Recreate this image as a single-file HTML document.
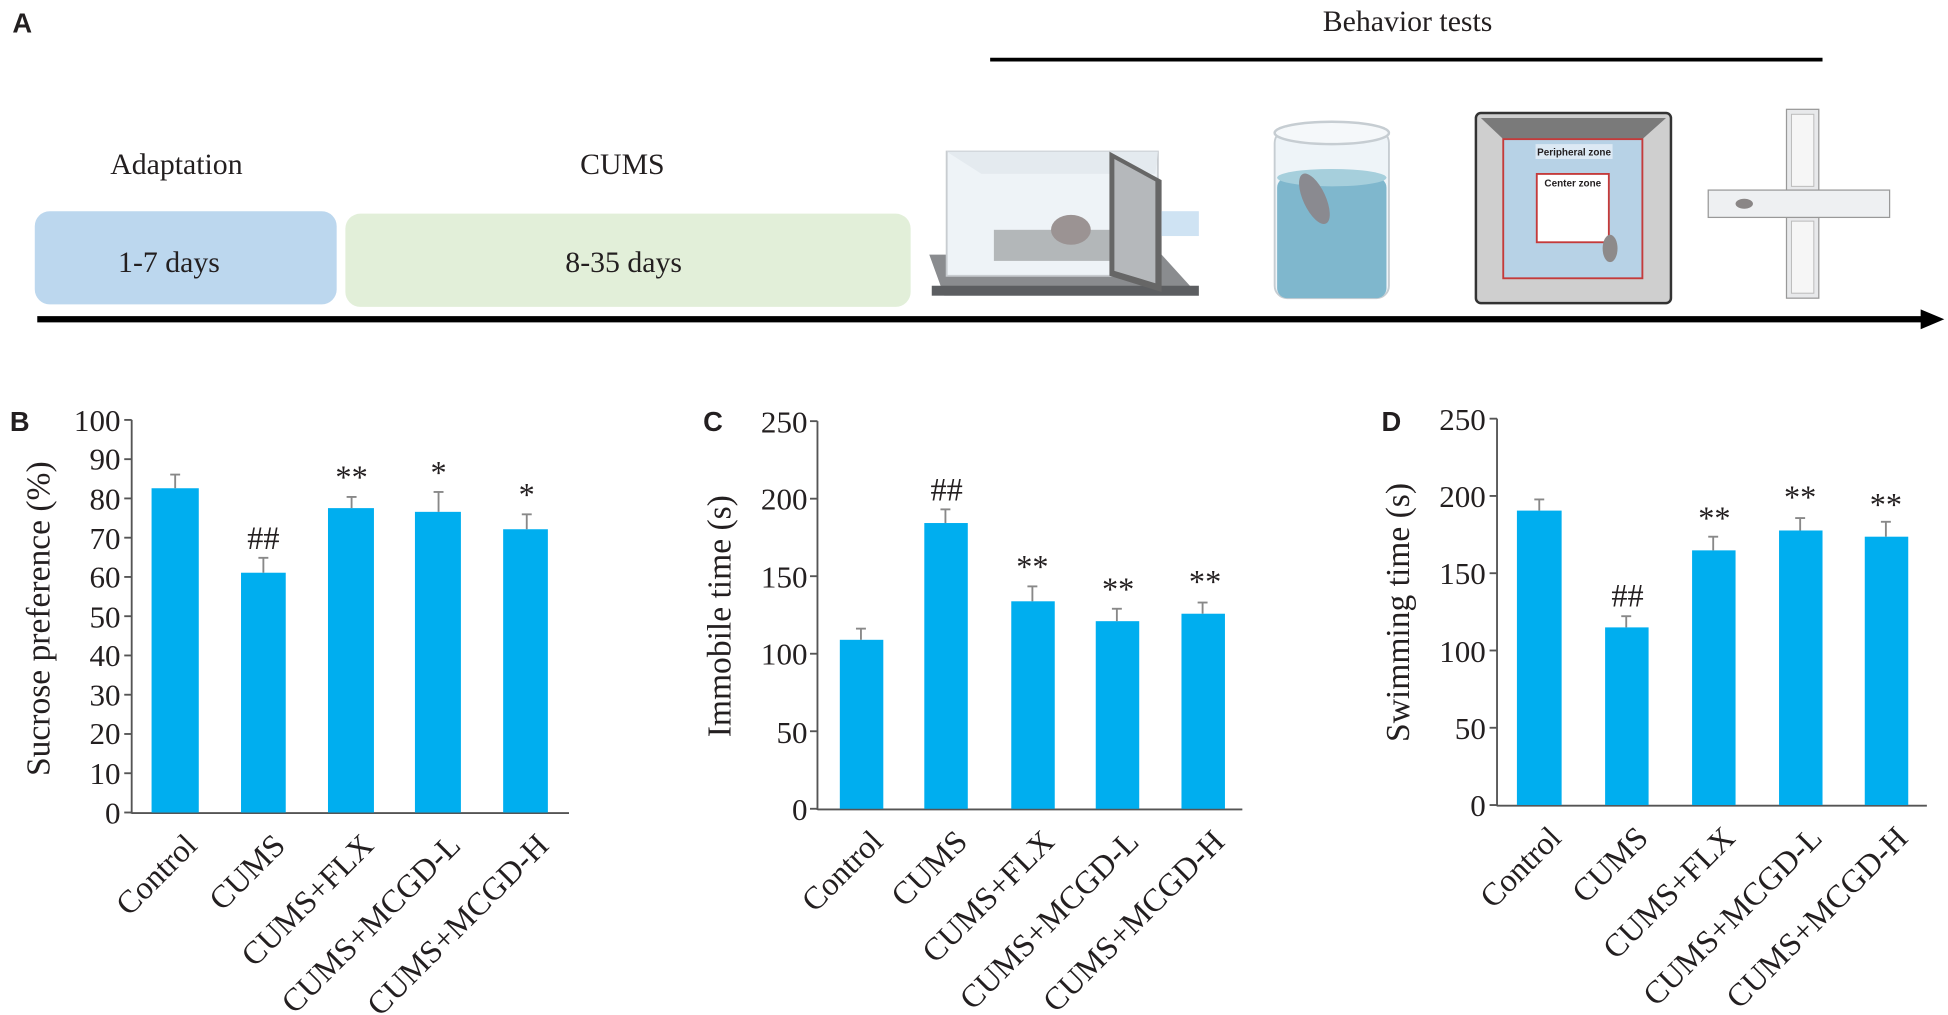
<!DOCTYPE html>
<html><head><meta charset="utf-8"><style>
html,body{margin:0;padding:0;background:#fff;}
svg{display:block;}
text{font-family:"Liberation Serif",serif;fill:#231f20;}
.t{font-size:25px;}
.x{font-size:26px;}
.s{font-family:"Liberation Sans",sans-serif;font-weight:bold;}
</style></head><body>
<svg width="1948" height="1015" viewBox="0 0 1568 817" preserveAspectRatio="none" xmlns="http://www.w3.org/2000/svg">
<rect width="1568" height="817" fill="#fff"/>
<!-- Panel A -->
<text x="10" y="26" class="s" style="font-size:22px">A</text>
<text x="1133" y="25" text-anchor="middle" style="font-size:24px">Behavior tests</text>
<line x1="797" y1="48" x2="1467" y2="48" stroke="#000" stroke-width="3"/>
<text x="142" y="140" text-anchor="middle" style="font-size:24px">Adaptation</text>
<text x="501" y="140" text-anchor="middle" style="font-size:24px">CUMS</text>
<rect x="28" y="170" width="243" height="75" rx="12" fill="#bcd7ee"/>
<rect x="278" y="172" width="455" height="75" rx="12" fill="#e2efd9"/>
<text x="136" y="219" text-anchor="middle" style="font-size:24px">1-7 days</text>
<text x="502" y="219" text-anchor="middle" style="font-size:24px">8-35 days</text>
<line x1="30" y1="257" x2="1550" y2="257" stroke="#000" stroke-width="5"/>
<polygon points="1546,249 1565,257 1546,265" fill="#000"/>
<!-- cage -->
<polygon points="748,205 935,205 965,238 760,238" fill="#8a8c8f"/>
<rect x="750" y="230" width="215" height="8" fill="#5c5e61"/>
<rect x="762" y="122" width="170" height="100" fill="#eef3f7" stroke="#c8ccd0" stroke-width="1.5"/>
<polygon points="762,122 790,140 930,140 932,122" fill="#e4eaef"/>
<rect x="800" y="185" width="120" height="25" fill="#9a9c9e" opacity="0.7"/>
<polygon points="893,122 935,145 935,235 893,222" fill="#666"/>
<polygon points="897,128 930,146 930,228 897,218" fill="#b5b8bb"/>
<ellipse cx="862" cy="185" rx="16" ry="12" fill="#9b9393"/>
<rect x="935" y="170" width="30" height="20" fill="#cfe3f3"/>
<!-- cylinder -->
<rect x="1026" y="105" width="92" height="135" rx="10" fill="#eef4f8" stroke="#c6cdd2" stroke-width="1.5"/>
<ellipse cx="1072" cy="107" rx="46" ry="9" fill="#f5f8fa" stroke="#c6cdd2" stroke-width="2"/>
<rect x="1028" y="143" width="88" height="97" rx="8" fill="#7fb7cd"/>
<ellipse cx="1072" cy="143" rx="44" ry="7" fill="#a6cfdc"/>
<ellipse cx="1058" cy="160" rx="9" ry="22" fill="#8a8a90" transform="rotate(-25 1058 160)"/>
<!-- open field -->
<rect x="1188" y="91" width="157" height="153" rx="4" fill="#cfcfcf" stroke="#333" stroke-width="2"/>
<polygon points="1192,95 1341,95 1322,112 1210,112" fill="#7a7a7a"/>
<rect x="1210" y="112" width="112" height="112" fill="#b7d2e6" stroke="#c43b3b" stroke-width="1.5"/>
<rect x="1237" y="140" width="58" height="55" fill="#fff" stroke="#c43b3b" stroke-width="1.5"/>
<rect x="1236" y="116" width="62" height="12" fill="#dce9f4"/>
<text x="1267" y="125" text-anchor="middle" style="font-family:'Liberation Sans',sans-serif;font-size:8px;font-weight:bold">Peripheral zone</text>
<text x="1266" y="150" text-anchor="middle" style="font-family:'Liberation Sans',sans-serif;font-size:8px;font-weight:bold">Center zone</text>
<ellipse cx="1296" cy="200" rx="6" ry="11" fill="#8d8a8a"/>
<!-- plus maze -->
<rect x="1438" y="88" width="26" height="152" fill="#e8e9eb" stroke="#999" stroke-width="1"/>
<rect x="1375" y="153" width="146" height="22" fill="#eef0f2" stroke="#999" stroke-width="1"/>
<rect x="1442" y="92" width="18" height="58" fill="#f6f6f6" stroke="#bbb" stroke-width="0.8"/>
<rect x="1442" y="178" width="18" height="58" fill="#f6f6f6" stroke="#bbb" stroke-width="0.8"/>
<ellipse cx="1404" cy="164" rx="7" ry="4" fill="#8a8686"/>

<!-- Panel B -->
<text x="8" y="347" class="s" style="font-size:22px">B</text>
<g stroke="#555" stroke-width="1.5">
<line x1="106" y1="338" x2="106" y2="655"/>
<line x1="106" y1="654.5" x2="458" y2="654.5"/>
<line x1="100" y1="338" x2="106" y2="338"/><line x1="100" y1="369.6" x2="106" y2="369.6"/><line x1="100" y1="401.2" x2="106" y2="401.2"/><line x1="100" y1="432.8" x2="106" y2="432.8"/><line x1="100" y1="464.4" x2="106" y2="464.4"/><line x1="100" y1="496" x2="106" y2="496"/><line x1="100" y1="527.6" x2="106" y2="527.6"/><line x1="100" y1="559.2" x2="106" y2="559.2"/><line x1="100" y1="590.8" x2="106" y2="590.8"/><line x1="100" y1="622.4" x2="106" y2="622.4"/><line x1="100" y1="654" x2="106" y2="654"/>
</g>
<g text-anchor="end">
<text x="97" y="347" class="t">100</text><text x="97" y="378" class="t">90</text><text x="97" y="410" class="t">80</text><text x="97" y="442" class="t">70</text><text x="97" y="473" class="t">60</text><text x="97" y="505" class="t">50</text><text x="97" y="536" class="t">40</text><text x="97" y="568" class="t">30</text><text x="97" y="599" class="t">20</text><text x="97" y="631" class="t">10</text><text x="97" y="663" class="t">0</text>
</g>
<text transform="translate(40 498) rotate(-90)" text-anchor="middle" style="font-size:27px">Sucrose preference (%)</text>
<g fill="#00aeef">
<rect x="122" y="393" width="38" height="261"/>
<rect x="194" y="461" width="36" height="193"/>
<rect x="264" y="409" width="37" height="245"/>
<rect x="334" y="412" width="37" height="242"/>
<rect x="405" y="426" width="36" height="228"/>
</g>
<g stroke="#888" stroke-width="1.5">
<line x1="141" y1="393" x2="141" y2="382"/><line x1="137" y1="382" x2="145" y2="382"/>
<line x1="212" y1="461" x2="212" y2="449"/><line x1="208" y1="449" x2="216" y2="449"/>
<line x1="283" y1="409" x2="283" y2="400"/><line x1="279" y1="400" x2="287" y2="400"/>
<line x1="353" y1="412" x2="353" y2="396"/><line x1="349" y1="396" x2="357" y2="396"/>
<line x1="424" y1="426" x2="424" y2="414"/><line x1="420" y1="414" x2="428" y2="414"/>
</g>
<g text-anchor="middle" style="font-size:26px">
<text x="212" y="442">##</text><text x="283" y="393">**</text><text x="353" y="389">*</text><text x="424" y="407">*</text>
</g>
<g text-anchor="end">
<text class="x" transform="translate(160 682) rotate(-45)">Control</text>
<text class="x" transform="translate(231 682) rotate(-45)">CUMS</text>
<text class="x" transform="translate(302 682) rotate(-45)">CUMS+FLX</text>
<text class="x" transform="translate(372 682) rotate(-45)">CUMS+MCGD-L</text>
<text class="x" transform="translate(443 682) rotate(-45)">CUMS+MCGD-H</text>
</g>

<!-- Panel C -->
<text x="566" y="347" class="s" style="font-size:22px">C</text>
<g stroke="#555" stroke-width="1.5">
<line x1="658" y1="339" x2="658" y2="652"/>
<line x1="658" y1="651.5" x2="1000" y2="651.5"/>
<line x1="652" y1="339" x2="658" y2="339"/><line x1="652" y1="401.4" x2="658" y2="401.4"/><line x1="652" y1="463.8" x2="658" y2="463.8"/><line x1="652" y1="526.2" x2="658" y2="526.2"/><line x1="652" y1="588.6" x2="658" y2="588.6"/><line x1="652" y1="651" x2="658" y2="651"/>
</g>
<g text-anchor="end">
<text x="650" y="348" class="t">250</text><text x="650" y="410" class="t">200</text><text x="650" y="473" class="t">150</text><text x="650" y="535" class="t">100</text><text x="650" y="598" class="t">50</text><text x="650" y="660" class="t">0</text>
</g>
<text transform="translate(588 496) rotate(-90)" text-anchor="middle" style="font-size:27px">Immobile time (s)</text>
<g fill="#00aeef">
<rect x="676" y="515" width="35" height="136"/>
<rect x="744" y="421" width="35" height="230"/>
<rect x="814" y="484" width="35" height="167"/>
<rect x="882" y="500" width="35" height="151"/>
<rect x="951" y="494" width="35" height="157"/>
</g>
<g stroke="#888" stroke-width="1.5">
<line x1="693" y1="515" x2="693" y2="506"/><line x1="689" y1="506" x2="697" y2="506"/>
<line x1="761" y1="421" x2="761" y2="410"/><line x1="757" y1="410" x2="765" y2="410"/>
<line x1="831" y1="484" x2="831" y2="472"/><line x1="827" y1="472" x2="835" y2="472"/>
<line x1="899" y1="500" x2="899" y2="490"/><line x1="895" y1="490" x2="903" y2="490"/>
<line x1="968" y1="494" x2="968" y2="485"/><line x1="964" y1="485" x2="972" y2="485"/>
</g>
<g text-anchor="middle" style="font-size:26px">
<text x="762" y="403">##</text><text x="831" y="465">**</text><text x="900" y="483">**</text><text x="970" y="477">**</text>
</g>
<g text-anchor="end">
<text class="x" transform="translate(712 679) rotate(-45)">Control</text>
<text class="x" transform="translate(780 679) rotate(-45)">CUMS</text>
<text class="x" transform="translate(850 679) rotate(-45)">CUMS+FLX</text>
<text class="x" transform="translate(918 679) rotate(-45)">CUMS+MCGD-L</text>
<text class="x" transform="translate(987 679) rotate(-45)">CUMS+MCGD-H</text>
</g>

<!-- Panel D -->
<text x="1112" y="347" class="s" style="font-size:22px">D</text>
<g stroke="#555" stroke-width="1.5">
<line x1="1205" y1="337" x2="1205" y2="649"/>
<line x1="1205" y1="648.5" x2="1551" y2="648.5"/>
<line x1="1199" y1="337" x2="1205" y2="337"/><line x1="1199" y1="399.2" x2="1205" y2="399.2"/><line x1="1199" y1="461.4" x2="1205" y2="461.4"/><line x1="1199" y1="523.6" x2="1205" y2="523.6"/><line x1="1199" y1="585.8" x2="1205" y2="585.8"/><line x1="1199" y1="648" x2="1205" y2="648"/>
</g>
<g text-anchor="end">
<text x="1196" y="346" class="t">250</text><text x="1196" y="408" class="t">200</text><text x="1196" y="470" class="t">150</text><text x="1196" y="533" class="t">100</text><text x="1196" y="595" class="t">50</text><text x="1196" y="657" class="t">0</text>
</g>
<text transform="translate(1134 493) rotate(-90)" text-anchor="middle" style="font-size:27px">Swimming time (s)</text>
<g fill="#00aeef">
<rect x="1221" y="411" width="36" height="237"/>
<rect x="1292" y="505" width="35" height="143"/>
<rect x="1362" y="443" width="35" height="205"/>
<rect x="1432" y="427" width="35" height="221"/>
<rect x="1501" y="432" width="35" height="216"/>
</g>
<g stroke="#888" stroke-width="1.5">
<line x1="1239" y1="411" x2="1239" y2="402"/><line x1="1235" y1="402" x2="1243" y2="402"/>
<line x1="1309" y1="505" x2="1309" y2="496"/><line x1="1305" y1="496" x2="1313" y2="496"/>
<line x1="1379" y1="443" x2="1379" y2="432"/><line x1="1375" y1="432" x2="1383" y2="432"/>
<line x1="1449" y1="427" x2="1449" y2="417"/><line x1="1445" y1="417" x2="1453" y2="417"/>
<line x1="1518" y1="432" x2="1518" y2="420"/><line x1="1514" y1="420" x2="1522" y2="420"/>
</g>
<g text-anchor="middle" style="font-size:26px">
<text x="1310" y="488">##</text><text x="1380" y="426">**</text><text x="1449" y="409">**</text><text x="1518" y="415">**</text>
</g>
<g text-anchor="end">
<text class="x" transform="translate(1258 676) rotate(-45)">Control</text>
<text class="x" transform="translate(1328 676) rotate(-45)">CUMS</text>
<text class="x" transform="translate(1398 676) rotate(-45)">CUMS+FLX</text>
<text class="x" transform="translate(1468 676) rotate(-45)">CUMS+MCGD-L</text>
<text class="x" transform="translate(1537 676) rotate(-45)">CUMS+MCGD-H</text>
</g>
</svg>
</body></html>
